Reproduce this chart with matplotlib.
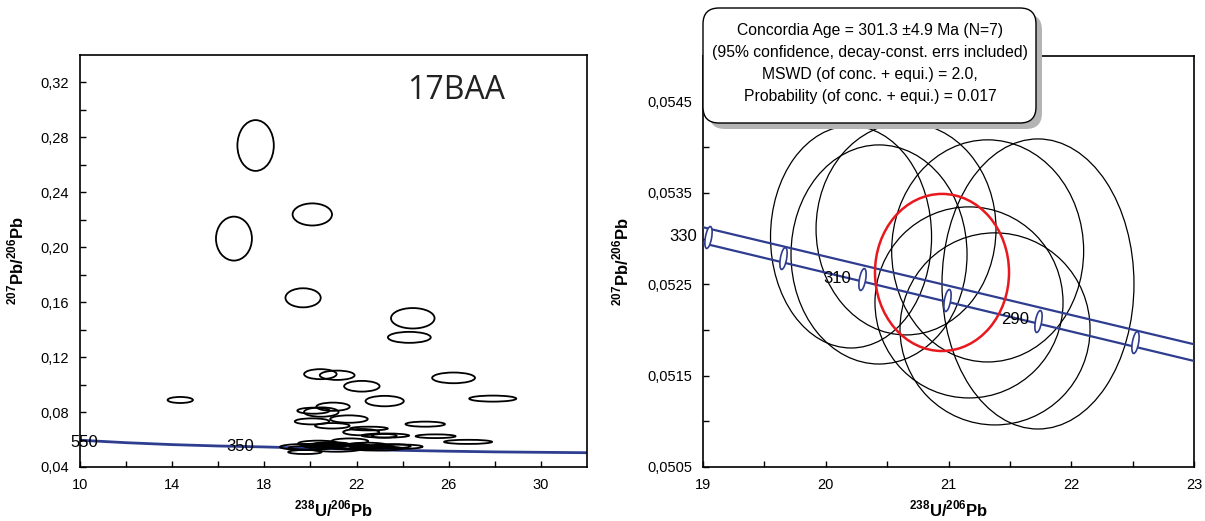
import numpy as np
import matplotlib
matplotlib.use('Agg')
import matplotlib.pyplot as plt
from matplotlib.patches import Ellipse, FancyBboxPatch
from matplotlib.path import Path
from matplotlib.transforms import Affine2D, IdentityTransform

plt.rcParams['font.family'] = ['Liberation Sans', 'DejaVu Sans']
plt.rcParams['mathtext.fontset'] = 'custom'
plt.rcParams['mathtext.bf'] = 'Liberation Sans:bold'
plt.rcParams['mathtext.rm'] = 'Liberation Sans:bold'

# ---- left panel: all analyses (Tera-Wasserburg), ellipse centres and sizes
left_cx = [17.62, 16.68, 20.08, 19.68, 24.44, 24.29, 20.43, 21.16, 22.23, 26.21,
           14.35, 23.22, 27.91, 20.98, 20.13, 20.47, 20.07, 21.67, 20.95, 24.98,
           22.20, 22.54, 23.25, 23.20, 25.43, 26.84,
           19.76, 19.83, 20.34, 21.71, 22.44, 24.00, 21.13, 22.86, 20.60, 21.40,
           22.00, 23.50, 20.90, 21.90, 19.90, 22.70]
left_cy = [0.2741, 0.2063, 0.2239, 0.1632, 0.1483, 0.1344, 0.1076, 0.1068, 0.0988, 0.1049,
           0.0888, 0.0880, 0.0898, 0.0839, 0.0810, 0.0800, 0.0732, 0.0749, 0.0700, 0.0712,
           0.0654, 0.0680, 0.0629, 0.0627, 0.0624, 0.0583,
           0.0509, 0.0546, 0.0572, 0.0588, 0.0560, 0.0548, 0.0536, 0.0535, 0.0555, 0.0550,
           0.0548, 0.0552, 0.0565, 0.0542, 0.0540, 0.0545]
left_w = [1.58, 1.56, 1.71, 1.53, 1.89, 1.86, 1.41, 1.51, 1.54, 1.86,
          1.10, 1.66, 2.04, 1.45, 1.40, 1.50, 1.50, 1.63, 1.50, 1.71,
          1.56, 1.63, 2.06, 1.08, 1.73, 2.08,
          1.45, 2.30, 1.74, 1.59, 1.73, 1.73, 2.30, 2.30, 1.90, 2.00,
          1.80, 1.70, 1.60, 2.10, 1.70, 1.90]
left_h = [0.037, 0.032, 0.0161, 0.0139, 0.0149, 0.0080, 0.0073, 0.0068, 0.0078, 0.0078,
          0.0044, 0.0076, 0.0044, 0.0060, 0.0044, 0.0068, 0.0044, 0.0054, 0.0040, 0.0037,
          0.0046, 0.0027, 0.0030, 0.0027, 0.0027, 0.0030,
          0.0029, 0.0044, 0.0040, 0.0040, 0.0034, 0.0030, 0.0050, 0.0030, 0.0035, 0.0035,
          0.0030, 0.0030, 0.0030, 0.0028, 0.0026, 0.0026]

# concordia curve
conc_x = [10, 12, 14, 16, 18, 20, 22, 24, 26, 28, 30, 32]
conc_y = [0.0595, 0.0577, 0.0563, 0.0553, 0.0546, 0.0537, 0.0529, 0.0521,
          0.0515, 0.0510, 0.0507, 0.0504]

left_xticks = [10, 14, 18, 22, 26, 30]
left_xlabels = ['10', '14', '18', '22', '26', '30']
left_yticks = [0.04, 0.08, 0.12, 0.16, 0.20, 0.24, 0.28, 0.32]
left_ylabels = ['0,04', '0,08', '0,12', '0,16', '0,20', '0,24', '0,28', '0,32']

# ---- right panel: concordant analyses
right_cx = [20.206, 20.434, 20.654, 21.319, 21.729, 21.167, 21.379]
right_cy = [0.053019, 0.052827, 0.053107, 0.052866, 0.052504, 0.052302, 0.052012]
right_w = [1.312, 1.434, 1.466, 1.564, 1.564, 1.532, 1.548]
right_h = [0.002432, 0.002399, 0.002322, 0.002432, 0.003176, 0.002092, 0.002103]

# concordia age ellipse
age_cx, age_cy, age_w, age_h = 20.947, 0.052630, 1.092, 0.00172

# concordia error band
band_x = [19, 23]
band_upper = [0.053125, 0.051844]
band_lower = [0.052950, 0.051661]
# age marks (330 ... 280 Ma)
mark_x = [19.043, 19.654, 20.293, 20.985, 21.732, 22.519]
mark_y = [0.053022, 0.052786, 0.052556, 0.052329, 0.052099, 0.051872]

right_xticks = [19, 20, 21, 22, 23]
right_xlabels = ['19', '20', '21', '22', '23']
right_yticks = [0.0505, 0.0515, 0.0525, 0.0535, 0.0545]
right_ylabels = ['0,0505', '0,0515', '0,0525', '0,0535', '0,0545']

box_lines = ['Concordia Age = 301.3 \u00b14.9 Ma (N=7)',
             '(95% confidence, decay-const. errs included)',
             'MSWD (of conc. + equi.) = 2.0,',
             'Probability (of conc. + equi.) = 0.017']

navy = '#2E3D8F'
xlab = r'$^{\mathbf{238}}$U/$^{\mathbf{206}}$Pb'
ylab = r'$^{\mathbf{207}}$Pb/$^{\mathbf{206}}$Pb'

fig = plt.figure(figsize=(12.05, 5.21), dpi=100)
ax1 = fig.add_axes([80 / 1205, 54 / 521, 507 / 1205, 412 / 521])
ax2 = fig.add_axes([703 / 1205, 54 / 521, 491 / 1205, 411 / 521])


def style_axes(ax):
    for s in ax.spines.values():
        s.set_linewidth(1.2)
        s.set_color('black')
    ax.tick_params(which='both', direction='in', length=4, width=1,
                   labelsize=10.5, pad=8, top=False, right=False)


# left panel
ax1.plot(conc_x, conc_y, color=navy, lw=2, zorder=1)
for cx, cy, w, h in zip(left_cx, left_cy, left_w, left_h):
    ax1.add_patch(Ellipse((cx, cy), w, h, fill=False, ec='black', lw=1.3, zorder=2))
ax1.set_xlim(10, 32)
ax1.set_ylim(0.04, 0.34)
ax1.set_xticks(left_xticks)
ax1.set_xticklabels(left_xlabels)
ax1.set_xticks([12, 16, 20, 24, 28], minor=True)
ax1.set_yticks(left_yticks)
ax1.set_yticklabels(left_ylabels)
ax1.set_yticks([0.06, 0.10, 0.14, 0.18, 0.22, 0.26, 0.30], minor=True)
style_axes(ax1)
ax1.text(10.17, 0.0577, '550', fontsize=12, ha='center', va='center', zorder=3)
ax1.text(16.96, 0.0548, '350', fontsize=12, ha='center', va='center', zorder=3)
ax1.text(26.3, 0.314, '17BAA', fontsize=23, family='Open Sans', color='#222222',
         ha='center', va='center')
ax1.set_xlabel(xlab, fontsize=12, fontweight='bold')
ax1.xaxis.set_label_coords(0.5, -32 / 412)
ax1.set_ylabel(ylab, fontsize=12, fontweight='bold')
ax1.yaxis.set_label_coords(-54 / 507, 0.5)

# right panel
ax2.plot(band_x, band_upper, color=navy, lw=1.6, zorder=3)
ax2.plot(band_x, band_lower, color=navy, lw=1.6, zorder=3)
mark = Path.unit_circle().transformed(Affine2D().scale(0.28, 1).rotate_deg(-10))
ax2.plot(mark_x, mark_y, ls='none', marker=mark, ms=16, mfc='white',
         mec=navy, mew=1.2, zorder=4, clip_on=False)
for cx, cy, w, h in zip(right_cx, right_cy, right_w, right_h):
    ax2.add_patch(Ellipse((cx, cy), w, h, fill=False, ec='black', lw=0.9, zorder=2))
ax2.add_patch(Ellipse((age_cx, age_cy), age_w, age_h, fill=False, ec='#E8181E',
                      lw=1.8, zorder=5))
ax2.set_xlim(19, 23)
ax2.set_ylim(0.0505, 0.0550)
ax2.set_xticks(right_xticks)
ax2.set_xticklabels(right_xlabels)
ax2.set_xticks([19.5, 20.5, 21.5, 22.5], minor=True)
ax2.set_yticks(right_yticks)
ax2.set_yticklabels(right_ylabels)
ax2.set_yticks([0.0510, 0.0520, 0.0530, 0.0540], minor=True)
style_axes(ax2)
ax2.text(18.95, 0.05302, '330', fontsize=12, ha='right', va='center', zorder=6,
         clip_on=False)
ax2.text(20.09, 0.05256, '310', fontsize=12, ha='center', va='center', zorder=6)
ax2.text(21.546, 0.052116, '290', fontsize=12, ha='center', va='center', zorder=6)
ax2.set_xlabel(xlab, fontsize=12, fontweight='bold')
ax2.xaxis.set_label_coords(0.5, -32 / 411)
ax2.set_ylabel(ylab, fontsize=12, fontweight='bold')
ax2.yaxis.set_label_coords(-72 / 491, 0.5)

# result box with shadow (pixel coordinates)
pix = IdentityTransform()
shadow = FancyBboxPatch((709, 521 - 129), 333, 115,
                        boxstyle='round,pad=0,rounding_size=16',
                        fc='#b4b4b4', ec='none', transform=pix, zorder=10)
box = FancyBboxPatch((703, 521 - 123), 333, 115,
                     boxstyle='round,pad=0,rounding_size=16',
                     fc='white', ec='black', lw=1.0, transform=pix, zorder=11)
fig.add_artist(shadow)
fig.add_artist(box)
for i, line in enumerate(box_lines):
    fig.text(870 / 1205, (521 - 30 - 22.3 * i) / 521, line, fontsize=11.3,
             ha='center', va='center', zorder=12)

fig.savefig('out.png', dpi=100)
